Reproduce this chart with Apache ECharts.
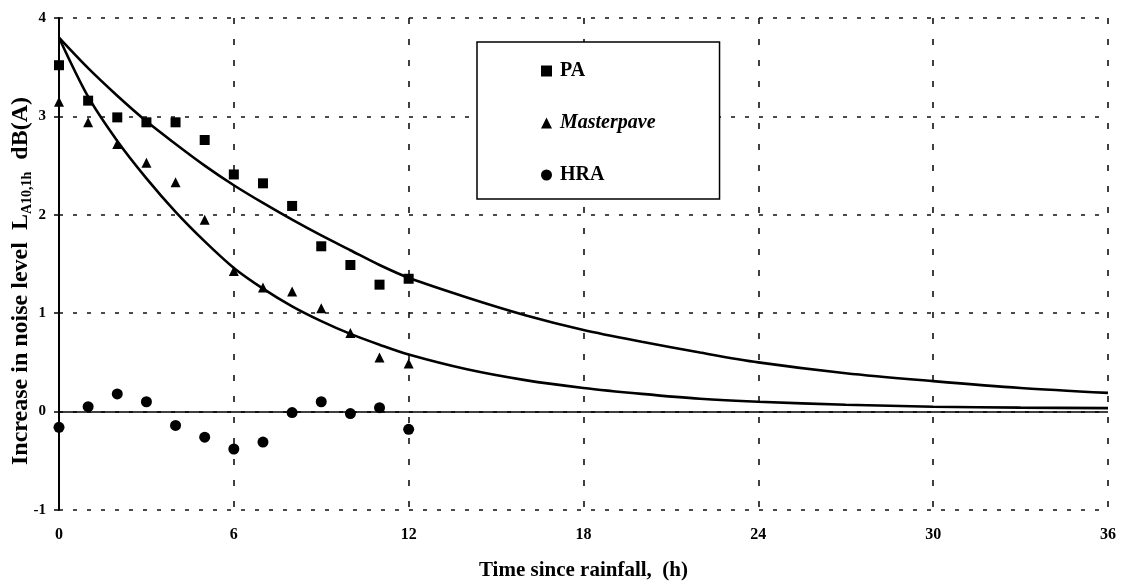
<!DOCTYPE html>
<html>
<head>
<meta charset="utf-8">
<script src="https://cdn.jsdelivr.net/npm/echarts@6/dist/echarts.min.js"></script>
<style>
html,body{margin:0;padding:0;background:#fff;}
#c{width:1125px;height:581px;}
</style>
</head>
<body>
<div id="c"></div>
<script>
// Measured points (time since rainfall, h)
const hours = [0,1,2,3,4,5,6,7,8,9,10,11,12];
const paValues = [3.52,3.16,2.99,2.94,2.94,2.76,2.41,2.32,2.09,1.68,1.49,1.29,1.35];
const masterpaveValues = [3.15,2.94,2.72,2.53,2.33,1.95,1.43,1.26,1.22,1.05,0.80,0.55,0.49];
const hraValues = [-0.16,0.05,0.18,0.10,-0.14,-0.26,-0.38,-0.31,-0.01,0.10,-0.02,0.04,-0.18];
// Fitted curves
const curveHours = [0,1,2,3,4,5,6,7,8,9,10,11,12,14,16,18,20,22,24,27,30,33,36];
const paCurve = [3.80,3.49,3.21,2.95,2.72,2.50,2.30,2.12,1.95,1.79,1.64,1.49,1.36,1.16,0.98,0.83,0.71,0.60,0.50,0.39,0.31,0.24,0.19];
const masterpaveCurve = [3.80,3.20,2.75,2.37,2.03,1.73,1.46,1.25,1.07,0.92,0.79,0.68,0.58,0.43,0.32,0.24,0.18,0.13,0.10,0.07,0.05,0.04,0.035];
const xTicks = [0,6,12,18,24,30,36];
const yTicks = [-1,0,1,2,3,4];

const pairs = (xs, ys) => xs.map((x, i) => [x, ys[i]]);
const serif = '"Liberation Serif","DejaVu Serif",serif';

const chart = echarts.init(document.getElementById('c'), null, {renderer: 'canvas'});
chart.setOption({
  animation: false,
  backgroundColor: '#fff',
  grid: {left: 59, right: 17, top: 18, bottom: 71, containLabel: false, outerBoundsMode: 'none'},
  legend: {
    left: 477, top: 42, orient: 'vertical',
    itemGap: 32, itemWidth: 11, itemHeight: 11,
    padding: [19, 64, 14, 64],
    borderColor: '#000', borderWidth: 1.5, backgroundColor: '#fff',
    textStyle: {fontFamily: serif, fontWeight: 'bold', fontSize: 20, lineHeight: 20, color: '#000', padding: [0, 0, 0, 3]},
    data: [
      {name: 'PA', icon: 'rect'},
      {name: 'Masterpave', icon: 'triangle', textStyle: {fontStyle: 'italic'}},
      {name: 'HRA', icon: 'circle'}
    ]
  },
  xAxis: {
    type: 'value', min: xTicks[0], max: xTicks[xTicks.length - 1], interval: 6,
    name: 'Time since rainfall,  (h)', nameLocation: 'middle', nameGap: 50, nameMoveOverlap: false,
    nameTextStyle: {fontFamily: serif, fontWeight: 'bold', fontSize: 21, color: '#000'},
    axisLine: {show: false, onZero: false},
    axisTick: {show: false},
    axisLabel: {margin: 17, fontFamily: serif, fontWeight: 'bold', fontSize: 16, color: '#000'},
    splitLine: {show: true, lineStyle: {color: '#111', width: 1.6, type: [6, 15]}}
  },
  yAxis: {
    type: 'value', min: yTicks[0], max: yTicks[yTicks.length - 1], interval: 1,
    name: '{a|Increase in noise level  L}{s|A10,1h}{a|  dB(A)}',
    nameLocation: 'middle', nameGap: 25, nameRotate: 90, nameMoveOverlap: false,
    nameTextStyle: {
      padding: [0, 34, 0, 0],
      rich: {
        a: {fontFamily: serif, fontWeight: 'bold', fontSize: 24, lineHeight: 26, color: '#000'},
        s: {fontFamily: serif, fontWeight: 'bold', fontSize: 14, lineHeight: 12, verticalAlign: 'bottom', color: '#000'}
      }
    },
    axisLine: {show: true, lineStyle: {color: '#000', width: 2}},
    axisTick: {show: true, length: 5, lineStyle: {color: '#000', width: 1.5}},
    axisLabel: {margin: 13, fontFamily: serif, fontWeight: 'bold', fontSize: 15, color: '#000'},
    splitLine: {show: true, lineStyle: {color: '#111', width: 1.6, type: [4, 10]}}
  },
  series: [
    {
      name: 'PA curve', type: 'line', data: pairs(curveHours, paCurve), smooth: 0.3,
      showSymbol: false, symbol: 'none', lineStyle: {color: '#000', width: 2.6}, z: 3,
      markLine: {
        silent: true, symbol: 'none', label: {show: false},
        lineStyle: {color: '#000', width: 1.6, type: 'solid'},
        data: [{yAxis: 0}]
      }
    },
    {
      name: 'Masterpave curve', type: 'line', data: pairs(curveHours, masterpaveCurve), smooth: 0.3,
      showSymbol: false, symbol: 'none', lineStyle: {color: '#000', width: 2.6}, z: 3
    },
    {
      name: 'PA', type: 'scatter', symbol: 'rect', symbolSize: 10,
      itemStyle: {color: '#000', opacity: 1}, data: pairs(hours, paValues), z: 4
    },
    {
      name: 'Masterpave', type: 'scatter', symbol: 'triangle', symbolSize: 10,
      itemStyle: {color: '#000', opacity: 1}, data: pairs(hours, masterpaveValues), z: 4
    },
    {
      name: 'HRA', type: 'scatter', symbol: 'circle', symbolSize: 11,
      itemStyle: {color: '#000', opacity: 1}, data: pairs(hours, hraValues), z: 4
    }
  ]
});
</script>
</body>
</html>
